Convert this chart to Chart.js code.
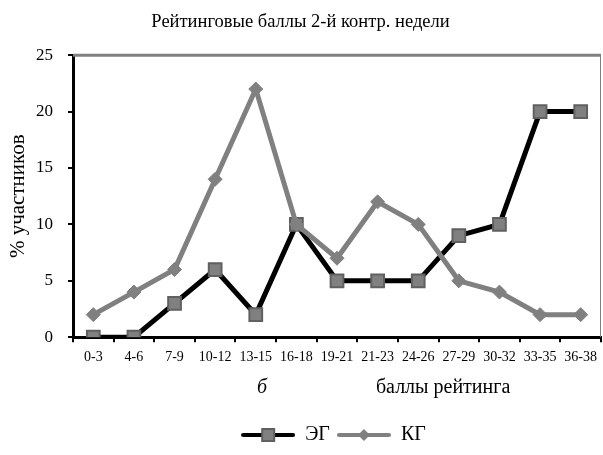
<!DOCTYPE html>
<html>
  <head>
    <title>Рейтинговые баллы 2-й контр. недели</title>
    <script src="https://cdn.jsdelivr.net/npm/chart.js@4.4.1/dist/chart.umd.min.js"></script>
    <style>
      html, body { margin: 0; padding: 0; overflow: hidden; background: #fff; }
      #myChart { position: absolute; left: 0; top: 0; }
    </style>
  </head>
  <body>
    <canvas id="myChart" width="603" height="455"></canvas>
  </body>
  <script>
    const categories = ['0-3', '4-6', '7-9', '10-12', '13-15', '16-18', '19-21', '21-23', '24-26', '27-29', '30-32', '33-35', '36-38']
    const egValues = [0, 0, 3, 6, 2, 10, 5, 5, 5, 9, 10, 20, 20]
    const kgValues = [2, 4, 6, 14, 22, 10, 7, 12, 10, 5, 4, 2, 2]
    const yTicks = [0, 5, 10, 15, 20, 25]

    const serif = '"Liberation Serif", "Times New Roman", serif'

    // little line+marker pictures for the legend
    function legendIcon(lineColor, shape) {
      const c = document.createElement('canvas')
      c.width = 54
      c.height = 14
      const g = c.getContext('2d')
      g.strokeStyle = lineColor
      g.lineWidth = 4
      g.lineCap = 'round'
      g.beginPath()
      g.moveTo(2, 7)
      g.lineTo(52, 7)
      g.stroke()
      g.fillStyle = '#808080'
      if (shape === 'rect') {
        g.fillRect(21, 1, 12, 12)
        g.strokeStyle = '#606060'
        g.lineWidth = 2
        g.strokeRect(21, 1, 12, 12)
      } else {
        g.beginPath()
        g.moveTo(27, 1)
        g.lineTo(33, 7)
        g.lineTo(27, 13)
        g.lineTo(21, 7)
        g.closePath()
        g.fill()
      }
      return c
    }

    const plotFrame = {
      id: 'plotFrame',
      afterLayout(chart) {
        // legend sits a bit right of centre in the original
        const lg = chart.legend
        lg.left += 33
        lg.right += 33
      },
      afterDatasetsDraw(chart) {
        const { ctx, chartArea: { top, right, bottom, left } } = chart
        ctx.save()
        ctx.strokeStyle = '#808080'
        ctx.lineWidth = 3
        ctx.beginPath()
        ctx.moveTo(left, top)
        ctx.lineTo(right, top)
        ctx.stroke()
        ctx.lineWidth = 1
        ctx.beginPath()
        ctx.moveTo(right - 0.5, top)
        ctx.lineTo(right - 0.5, bottom)
        ctx.stroke()
        ctx.restore()
      },
      afterDraw(chart) {
        const { ctx, chartArea: { bottom, left, width } } = chart
        ctx.save()
        ctx.fillStyle = '#000'
        ctx.textAlign = 'center'
        ctx.textBaseline = 'middle'
        ctx.font = 'italic 20px ' + serif
        ctx.fillText('б', left + width * 0.358, bottom + 51)
        ctx.font = '20px ' + serif
        ctx.fillText('баллы рейтинга', left + width * 0.701, bottom + 51)
        ctx.restore()
      },
    }

    const ctx = document.getElementById('myChart').getContext('2d')
    const myChart = new Chart(ctx, {
      type: 'line',
      data: {
        labels: categories,
        datasets: [
          {
            label: 'ЭГ',
            data: egValues,
            borderColor: '#000000',
            borderWidth: 5,
            pointStyle: 'rect',
            pointRadius: 9,
            pointBackgroundColor: '#808080',
            pointBorderColor: '#606060',
            pointBorderWidth: 2,
            tension: 0,
            order: 1,
          },
          {
            label: 'КГ',
            data: kgValues,
            borderColor: '#808080',
            borderWidth: 5,
            pointStyle: 'rectRot',
            pointRadius: 7,
            pointBackgroundColor: '#808080',
            pointBorderColor: '#808080',
            pointBorderWidth: 1,
            tension: 0,
            order: 0,
          },
        ],
      },
      options: {
        responsive: false,
        animation: false,
        layout: { autoPadding: false, padding: { left: 0, right: 2, top: 0, bottom: 0 } },
        scales: {
          x: {
            offset: true,
            grid: { drawOnChartArea: false, drawTicks: true, tickLength: 5, color: '#000', lineWidth: 2, offset: true },
            border: { color: '#000', width: 3 },
            ticks: { color: '#000', font: { family: serif, size: 14 }, padding: 7, maxRotation: 0, autoSkip: false },
            afterFit(scale) {
              scale.height += 45
              scale.paddingLeft = 0
              scale.paddingRight = 0
            },
          },
          y: {
            min: 0,
            max: 25,
            afterBuildTicks(scale) {
              scale.ticks = yTicks.map((v) => ({ value: v }))
            },
            afterFit(scale) {
              scale.width = 73
            },
            grid: { drawOnChartArea: false, drawTicks: true, tickLength: 5, color: '#000', lineWidth: 2 },
            border: { color: '#000', width: 3 },
            ticks: { color: '#000', font: { family: serif, size: 17 }, padding: 15 },
            title: { display: true, text: '% участников', color: '#000', font: { family: serif, size: 21 }, padding: { top: 6, bottom: 4 } },
          },
        },
        plugins: {
          title: {
            display: true,
            text: 'Рейтинговые баллы 2-й контр. недели',
            color: '#000',
            font: { family: serif, size: 18.5, weight: 'normal' },
            padding: { top: 11, bottom: 22 },
          },
          legend: {
            position: 'bottom',
            labels: {
              color: '#000',
              font: { family: serif, size: 20 },
              usePointStyle: true,
              pointStyleWidth: 54,
              padding: 7,
              sort: (a, b) => a.datasetIndex - b.datasetIndex,
              generateLabels(chart) {
                return chart.data.datasets.map((ds, i) => ({
                  text: ds.label,
                  datasetIndex: i,
                  pointStyle: legendIcon(ds.borderColor, ds.pointStyle),
                  fontColor: '#000',
                  lineWidth: 0,
                }))
              },
            },
          },
          tooltip: { enabled: false },
        },
      },
      plugins: [plotFrame],
    })
  </script>
</html>
